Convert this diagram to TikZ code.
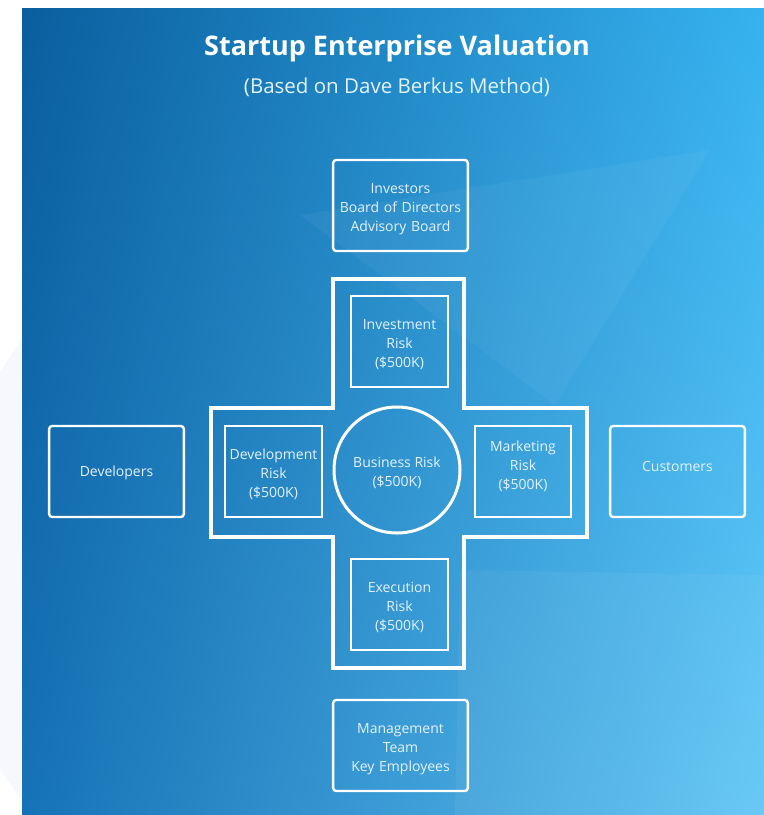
\documentclass[tikz,border=0pt]{standalone}
\usepackage{fontspec}
\setmainfont{Open Sans}
\usetikzlibrary{shapes.geometric, shadings}

\definecolor{panelTL}{HTML}{0A5E9E}
\definecolor{panelTR}{HTML}{36B2EF}
\definecolor{panelBL}{HTML}{1672B6}
\definecolor{panelBR}{HTML}{62C6F5}
\definecolor{inkwhite}{HTML}{E4F2FB}

\tikzset{
  boxfont/.style={text=inkwhite, font=\fontsize{14}{19}\selectfont,
    text height=16.5pt},
  outerbox/.style={draw=white, line width=2.4pt, rounded corners=3pt,
    minimum width=133pt, minimum height=91pt, text width=128pt,
    align=center, boxfont},
  riskbox/.style={draw=white, line width=2pt,
    minimum width=93pt, minimum height=91pt, text width=90pt,
    align=center, boxfont},
  hubcircle/.style={draw=white, line width=3pt, circle, minimum size=126pt,
    align=center, boxfont, text height=36pt},
}

\begin{document}
\begin{tikzpicture}[x=1pt, y=-1pt, line cap=round, line join=miter]
  \useasboundingbox (0,0) rectangle (764,815);
  % page and the faint shape on the left margin
  \fill[white] (0,0) rectangle (764,815);
  \fill[black!6!blue!3] (0,372) -- (22,338) -- (22,800) -- (0,770) -- cycle;
  % blue panel
  \shade[upper left=panelTL, upper right=panelTR,
         lower left=panelBL, lower right=panelBR] (22,8) rectangle (764,815);
  % light facets
  \fill[white, opacity=0.045] (710,150) -- (300,215) -- (555,405) -- cycle;
  \fill[white, opacity=0.05] (460,570) -- (764,575) -- (764,815) -- (455,815) -- cycle;

  % heading
  \node[text=white, font=\bfseries\fontsize{27}{30}\selectfont] (title) at (397,48.5) {Startup Enterprise Valuation};
  \node[text=inkwhite, font=\fontsize{20.5}{24}\selectfont] (subtitle) at (397,87) {(Based on Dave Berkus Method)};

  % the cross frame
  \draw[white, line width=4.5pt]
    (333,279) -- (464,279) -- (464,408) -- (587,408) -- (587,537)
    -- (464,537) -- (464,668) -- (333,668) -- (333,537) -- (211,537)
    -- (211,408) -- (333,408) -- cycle;

  % centre and the four risks
  \node[hubcircle] (business) at (397,470) {Business Risk\\(\$500K)};
  \node[riskbox] (investment) at (399.5,341.5) {Investment\\Risk\\(\$500K)};
  \node[riskbox] (development) at (273.5,471.5) {Development\\Risk\\(\$500K)};
  \node[riskbox, text depth=57pt] (marketing) at (523,471.5) {Marketing\\Risk\\(\$500K)};
  \node[riskbox] (execution) at (399.5,604) {Execution\\Risk\\(\$500K)};

  % the people around it
  \node[outerbox] (investors) at (400.5,205.5) {Investors\\Board of Directors\\Advisory Board};
  \node[outerbox, text depth=7.5pt] (developers) at (116.5,471.5) {Developers};
  \node[outerbox, text depth=16pt] (customers) at (677.5,471.5) {Customers};
  \node[outerbox] (management) at (400.5,745.5) {Management\\Team\\Key Employees};
\end{tikzpicture}
\end{document}
